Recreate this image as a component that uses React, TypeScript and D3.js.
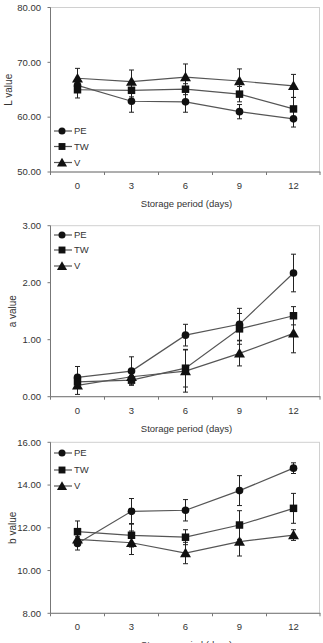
import React from 'react';
import * as d3 from 'd3';

// storage days on the x axis
const days = ['0', '3', '6', '9', '12'];
const seriesNames = ['PE', 'TW', 'V'];

// L value (mean, sd)
const lPE = [65.8, 62.9, 62.8, 61.0, 59.7];
const lPEErr = [1.2, 2.0, 1.9, 1.3, 1.5];
const lTW = [65.0, 64.9, 65.1, 64.2, 61.5];
const lTWErr = [1.5, 1.2, 1.0, 1.4, 2.1];
const lV = [67.1, 66.5, 67.3, 66.6, 65.7];
const lVErr = [1.8, 2.1, 2.4, 2.2, 2.1];
const lTicks = [50, 60, 70, 80];

// a value
const aPE = [0.34, 0.45, 1.08, 1.27, 2.17];
const aPEErr = [0.19, 0.25, 0.19, 0.28, 0.33];
const aTW = [0.26, 0.29, 0.5, 1.19, 1.42];
const aTWErr = [0.1, 0.08, 0.33, 0.27, 0.16];
const aV = [0.2, 0.35, 0.45, 0.76, 1.11];
const aVErr = [0.16, 0.1, 0.37, 0.22, 0.34];
const aTicks = [0, 1, 2, 3];

// b value
const bPE = [11.27, 12.77, 12.82, 13.74, 14.79];
const bPEErr = [0.31, 0.6, 0.5, 0.7, 0.25];
const bTW = [11.82, 11.65, 11.56, 12.13, 12.91];
const bTWErr = [0.5, 0.55, 0.35, 0.67, 0.7];
const bV = [11.46, 11.3, 10.82, 11.35, 11.66];
const bVErr = [0.3, 0.55, 0.5, 0.67, 0.25];
const bTicks = [8, 10, 12, 14, 16];

const FONT = '"Liberation Sans", Arial, sans-serif';
const W = 323;
const H = 643;
const X0 = 50.5;
const X1 = 320.5;

const symbolTypes = [d3.symbolCircle, d3.symbolSquare, d3.symbolTriangle];
const symbolSizes = [46, 56, 52];

interface PanelProps {
  top: number;
  bottom: number;
  domain: [number, number];
  ticks: number[];
  yTitle: string;
  yTitleX: number;
  series: number[][];
  errors: number[][];
  legendY: number[];
}

const Panel: React.FC<PanelProps> = ({ top, bottom, domain, ticks, yTitle, yTitleX, series, errors, legendY }) => {
  const x = d3.scaleBand<string>().domain(days).range([X0, X1]);
  const y = d3.scaleLinear().domain(domain).range([bottom, top]);
  const cx = (d: string) => (x(d) as number) + x.bandwidth() / 2;
  const line = d3.line<number>().x((_, i) => cx(days[i])).y((v) => y(v));
  const fmt = d3.format('.2f');

  return (
    <g>
      {/* light frame around the plot area */}
      <rect x={X0} y={top} width={X1 - X0 - 1} height={bottom - top} fill="none" stroke="#d0d0d0" strokeWidth={1} />
      {/* axes */}
      <line x1={X0} x2={X0} y1={top} y2={bottom} stroke="#777" />
      <line x1={X0} x2={X1} y1={bottom} y2={bottom} stroke="#777" />
      {ticks.map((t) => (
        <g key={t}>
          <line x1={X0 - 3} x2={X0} y1={y(t)} y2={y(t)} stroke="#777" />
          <text x={41} y={y(t)} dy="0.35em" textAnchor="end" fontSize={9.5} fill="#333" fontFamily={FONT}>
            {fmt(t)}
          </text>
        </g>
      ))}
      {days.map((d) => (
        <g key={d}>
          <line x1={x(d) as number} x2={x(d) as number} y1={bottom} y2={bottom + 3} stroke="#777" />
          <text x={cx(d)} y={bottom + 17} textAnchor="middle" fontSize={9.5} fill="#333" fontFamily={FONT}>
            {d}
          </text>
        </g>
      ))}
      <line x1={X1 - 0.5} x2={X1 - 0.5} y1={bottom} y2={bottom + 3} stroke="#777" />
      <text x={(X0 + X1) / 2 + 1} y={bottom + 35} textAnchor="middle" fontSize={9.5} fill="#333" fontFamily={FONT}>
        Storage period (days)
      </text>
      <text
        transform={`translate(${yTitleX},${(top + bottom) / 2}) rotate(-90)`}
        textAnchor="middle"
        dy="0.35em"
        fontSize={10}
        fill="#333"
        fontFamily={FONT}
      >
        {yTitle}
      </text>

      {/* series lines */}
      {series.map((s, si) => (
        <path key={`l${si}`} d={line(s) as string} fill="none" stroke="#555" strokeWidth={1.2} />
      ))}
      {/* error bars */}
      {series.map((s, si) =>
        s.map((v, i) => {
          const px = cx(days[i]);
          const e = errors[si][i];
          return (
            <g key={`e${si}-${i}`} stroke="#222" strokeWidth={1}>
              <line x1={px} x2={px} y1={y(v - e)} y2={y(v + e)} />
              <line x1={px - 2.5} x2={px + 2.5} y1={y(v + e)} y2={y(v + e)} />
              <line x1={px - 2.5} x2={px + 2.5} y1={y(v - e)} y2={y(v - e)} />
            </g>
          );
        })
      )}
      {/* markers */}
      {series.map((s, si) =>
        s.map((v, i) => (
          <path
            key={`m${si}-${i}`}
            d={d3.symbol().type(symbolTypes[si]).size(symbolSizes[si])() as string}
            transform={`translate(${cx(days[i])},${y(v) + (si === 2 ? 1 : 0)})`}
            fill="#111"
          />
        ))
      )}

      {/* legend */}
      {seriesNames.map((name, si) => (
        <g key={name} transform={`translate(0,${top + legendY[si]})`}>
          <line x1={54} x2={72} y1={0} y2={0} stroke="#555" strokeWidth={1.2} />
          <path
            d={d3.symbol().type(symbolTypes[si]).size(symbolSizes[si] * 0.85)() as string}
            transform={`translate(62,${si === 2 ? 1 : 0})`}
            fill="#111"
          />
          <text x={74} y={0} dy="0.35em" fontSize={9.5} fill="#333" fontFamily={FONT}>
            {name}
          </text>
        </g>
      ))}
    </g>
  );
};

export default function App() {
  return (
    <svg
      width={W}
      height={H}
      viewBox={`0 0 ${W} ${H}`}
      style={{ position: 'absolute', left: 0, top: 0, background: '#fff' }}
    >
      <rect width={W} height={H} fill="#fff" />
      <Panel
        top={7.5}
        bottom={172}
        domain={[50, 80]}
        ticks={lTicks}
        yTitle="L value"
        yTitleX={8}
        series={[lPE, lTW, lV]}
        errors={[lPEErr, lTWErr, lVErr]}
        legendY={[123.5, 139, 155]}
      />
      <Panel
        top={225.7}
        bottom={396.7}
        domain={[0, 3]}
        ticks={aTicks}
        yTitle="a value"
        yTitleX={12}
        series={[aPE, aTW, aV]}
        errors={[aPEErr, aTWErr, aVErr]}
        legendY={[9.3, 24.3, 40.3]}
      />
      <Panel
        top={442.3}
        bottom={613.3}
        domain={[8, 16]}
        ticks={bTicks}
        yTitle="b value"
        yTitleX={12}
        series={[bPE, bTW, bV]}
        errors={[bPEErr, bTWErr, bVErr]}
        legendY={[10.7, 27.7, 43.7]}
      />
    </svg>
  );
}
